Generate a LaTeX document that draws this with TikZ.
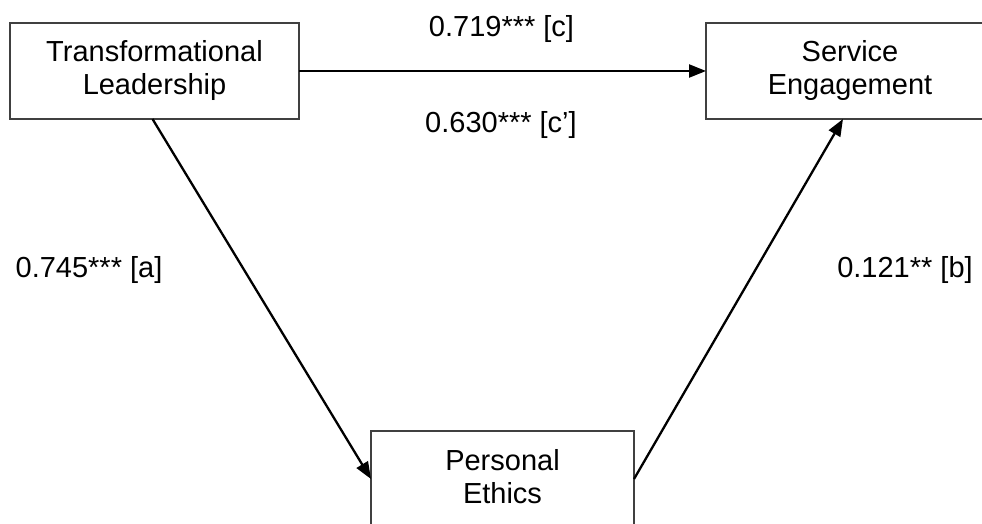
\documentclass[tikz,border=0pt]{standalone}
\usepackage{fontspec}
\setmainfont{Liberation Sans}
\usetikzlibrary{arrows.meta}
\begin{document}
\begin{tikzpicture}[x=1pt,y=1pt]
\definecolor{drawColor}{RGB}{0,0,0}
\definecolor{boxColor}{RGB}{64,64,64}
\tikzset{
  varbox/.style={draw=boxColor,line width=1.3pt,minimum width=289pt,minimum height=96pt,
    inner sep=0pt,outer sep=0pt,align=center,text=drawColor,font=\fontsize{29}{33}\selectfont},
  coef/.style={text=drawColor,anchor=base,inner sep=0pt,outer sep=0pt,font=\fontsize{29}{33}\selectfont},
  effect/.style={draw=drawColor,line width=2.3pt,-{Triangle[length=17pt,width=13pt]}}
}
\path[use as bounding box] (0,0) rectangle (982,523);
\clip (0,0) rectangle (982,523);

% variables
\node[varbox] (tl) at (154.5,452) {Transformational\\Leadership};
\node[varbox,minimum width=288pt] (se) at (850,452) {Service\\Engagement};
\node[varbox,minimum width=263pt] (pe) at (502.5,44) {Personal\\Ethics\vphantom{p}};

% paths
\draw[effect] (tl.east) -- (se.west);
\draw[effect] ([xshift=-2pt]tl.south) -- (pe.west);
\draw[effect] (pe.east) -- ([xshift=-7pt]se.south);

% coefficients
\node[coef] (c) at (501.5,486) {0.719*** [c]};
\node[coef] (cp) at (501,390) {0.630*** [c’]};
\node[coef] (a) at (89,246) {0.745*** [a]};
\node[coef] (b) at (905,246) {0.121** [b]};
\end{tikzpicture}
\end{document}
